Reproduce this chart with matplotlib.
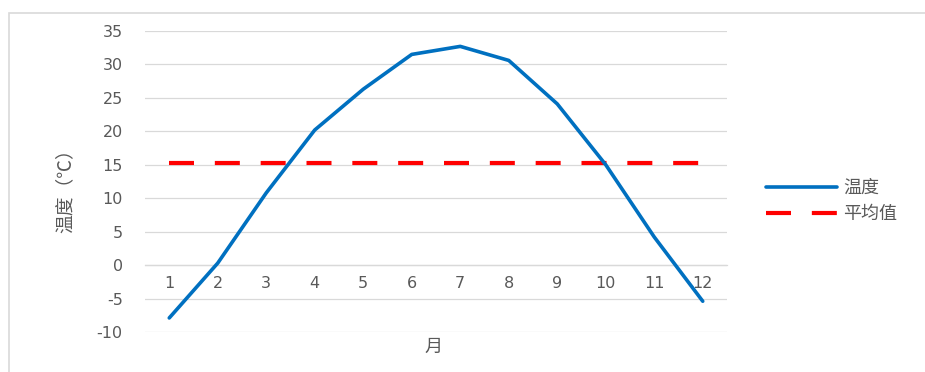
import matplotlib
matplotlib.use("Agg")
import matplotlib.pyplot as plt
from matplotlib.patches import Rectangle

plt.rcParams['font.family'] = ['Noto Sans CJK SC', 'DejaVu Sans']

months = [1, 2, 3, 4, 5, 6, 7, 8, 9, 10, 11, 12]
month_labels = ["1", "2", "3", "4", "5", "6", "7", "8", "9", "10", "11", "12"]
temperature = [-7.9, 0.3, 10.8, 20.2, 26.3, 31.5, 32.7, 30.6, 24.1, 15.0, 4.2, -5.4]
average = [15.2] * 12
y_ticks = [-10, -5, 0, 5, 10, 15, 20, 25, 30, 35]

W, H = 925, 372
fig = plt.figure(figsize=(W / 100, H / 100), dpi=100)
fig.patch.set_facecolor("white")

# chart area frame
fig.add_artist(Rectangle((8.5 / W, -0.2), 2.0, 1.2 - 12.5 / H,
                         transform=fig.transFigure, fill=False,
                         edgecolor="#d9d9d9", linewidth=1.2))

ax = fig.add_axes([145 / W, 1 - 332 / H, (727 - 145) / W, (332 - 31) / H])
ax.set_xlim(0.5, 12.5)
ax.set_ylim(-10, 35)

grid_c = "#d9d9d9"
text_c = "#595959"

ax.set_yticks(y_ticks)
ax.set_yticklabels([str(v) for v in y_ticks])
ax.yaxis.grid(True, color=grid_c, linewidth=0.9)
ax.set_axisbelow(True)
for s in ["top", "right", "left"]:
    ax.spines[s].set_visible(False)
ax.spines["bottom"].set_position(("data", 0))
ax.spines["bottom"].set_color(grid_c)
ax.spines["bottom"].set_linewidth(0.9)

ax.set_xticks(months)
ax.set_xticklabels(month_labels)
ax.tick_params(axis="x", length=0, pad=8, labelsize=11.5, labelcolor=text_c)
ax.tick_params(axis="y", length=0, pad=16, labelsize=11.5, labelcolor=text_c)
for lab in ax.get_xticklabels() + ax.get_yticklabels():
    lab.set_fontfamily("DejaVu Sans")

ax.plot(months, temperature, color="#0070C0", linewidth=2.6,
        solid_capstyle="round", label="温度", zorder=3)
ax.plot(months, average, color="#FF0000", linewidth=3.0,
        linestyle=(0, (6, 5)), label="平均值", zorder=2)

fig.text(65 / W, 1 - 186 / H, "温度（℃）", rotation=90, ha="center",
         va="center", fontsize=13.5, color=text_c)
fig.text(433 / W, 1 - 347 / H, "月", ha="center", va="center",
         fontsize=13, color=text_c)

leg = fig.legend(loc="upper left", bbox_to_anchor=(750 / W, 1 - 163 / H),
                 frameon=False, fontsize=13, handlelength=3.9,
                 handletextpad=0.35, labelspacing=0.45, labelcolor=text_c)

fig.savefig("out.png", dpi=100, facecolor="white")
